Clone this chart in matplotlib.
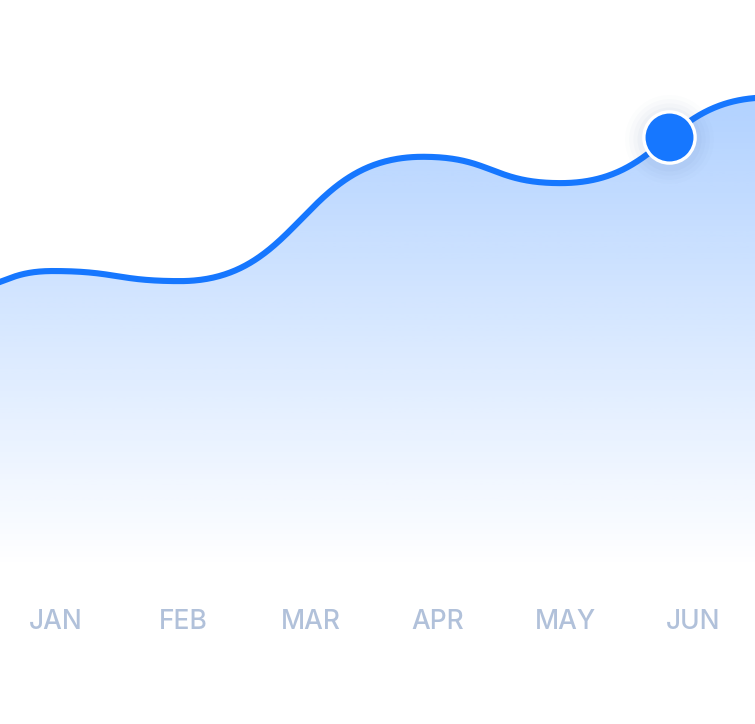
import numpy as np
import matplotlib
matplotlib.use("Agg")
import matplotlib.pyplot as plt
from matplotlib.patches import PathPatch
from matplotlib.path import Path as MplPath

# data: positions in month units (0 = JAN), values on a 0-100 scale
months = ["JAN", "FEB", "MAR", "APR", "MAY", "JUN"]
x_pts = [-0.80, -0.024, 0.973, 2.88, 3.96, 5.60]
y_pts = [48.2, 51.6, 49.8, 72.0, 67.3, 82.6]
marker_x = 4.81

LINE = "#1677ff"
LABEL = "#b1c1da"
YMIN, YMAX = -29.29, 100


def bump_curve(xs, ys, n=200):
    # cubic bezier between points with horizontal tangents (like d3 curveBumpX)
    out_x, out_y = [], []
    t = np.linspace(0, 1, n)
    for i in range(len(xs) - 1):
        xa, xb, ya, yb = xs[i], xs[i + 1], ys[i], ys[i + 1]
        xm = (xa + xb) / 2
        bx = (1 - t)**3 * xa + 3 * (1 - t)**2 * t * xm + 3 * (1 - t) * t**2 * xm + t**3 * xb
        by = (1 - t)**3 * ya + 3 * (1 - t)**2 * t * ya + 3 * (1 - t) * t**2 * yb + t**3 * yb
        out_x.append(bx)
        out_y.append(by)
    return np.concatenate(out_x), np.concatenate(out_y)


fig = plt.figure(figsize=(7.55, 7.24), dpi=100)
ax = fig.add_axes([0, 0, 1, 1])
x0 = -56 / 127.4
x1 = (755 - 56) / 127.4
ax.set_xlim(x0, x1)
ax.set_ylim(YMIN, YMAX)
ax.axis("off")

xs, ys = bump_curve(x_pts, y_pts)

# gradient area under the curve
verts = np.vstack([np.column_stack([xs, ys]), [[xs[-1], YMIN], [xs[0], YMIN], [xs[0], ys[0]]]])
clip = PathPatch(MplPath(verts, closed=True), facecolor="none", edgecolor="none")
ax.add_patch(clip)
yy = np.linspace(YMAX, YMIN, 500)
alpha = np.clip(0.00071 * (568 - (560 - 5.6 * yy)), 0, 1)
img = np.ones((500, 1, 4))
img[..., 0] = 22 / 255
img[..., 1] = 119 / 255
img[..., 2] = 1.0
img[:, 0, 3] = alpha
im = ax.imshow(img, extent=[x0, x1, YMIN, YMAX], aspect="auto", zorder=1, interpolation="bilinear")
im.set_clip_path(clip)

ax.plot(xs, ys, color=LINE, lw=4.4, solid_capstyle="round", zorder=3)

# marker with soft glow
my = np.interp(marker_x, xs, ys)
for s, a in [(64, 0.012), (58, 0.018), (52, 0.025), (46, 0.03)]:
    ax.scatter([marker_x], [my - 0.3], s=s**2, color="#3a5f9a", alpha=a, lw=0, zorder=4)
ax.scatter([marker_x], [my], s=36.9**2, color=LINE, edgecolor="white", linewidth=2.4, zorder=5)

for i, m in enumerate(months):
    ax.text(i, (560 - 629) / 5.6, m, ha="center", va="baseline", color=LABEL,
            fontsize=19, fontfamily="Inter", fontweight="medium")

fig.savefig("out.png", dpi=100)
